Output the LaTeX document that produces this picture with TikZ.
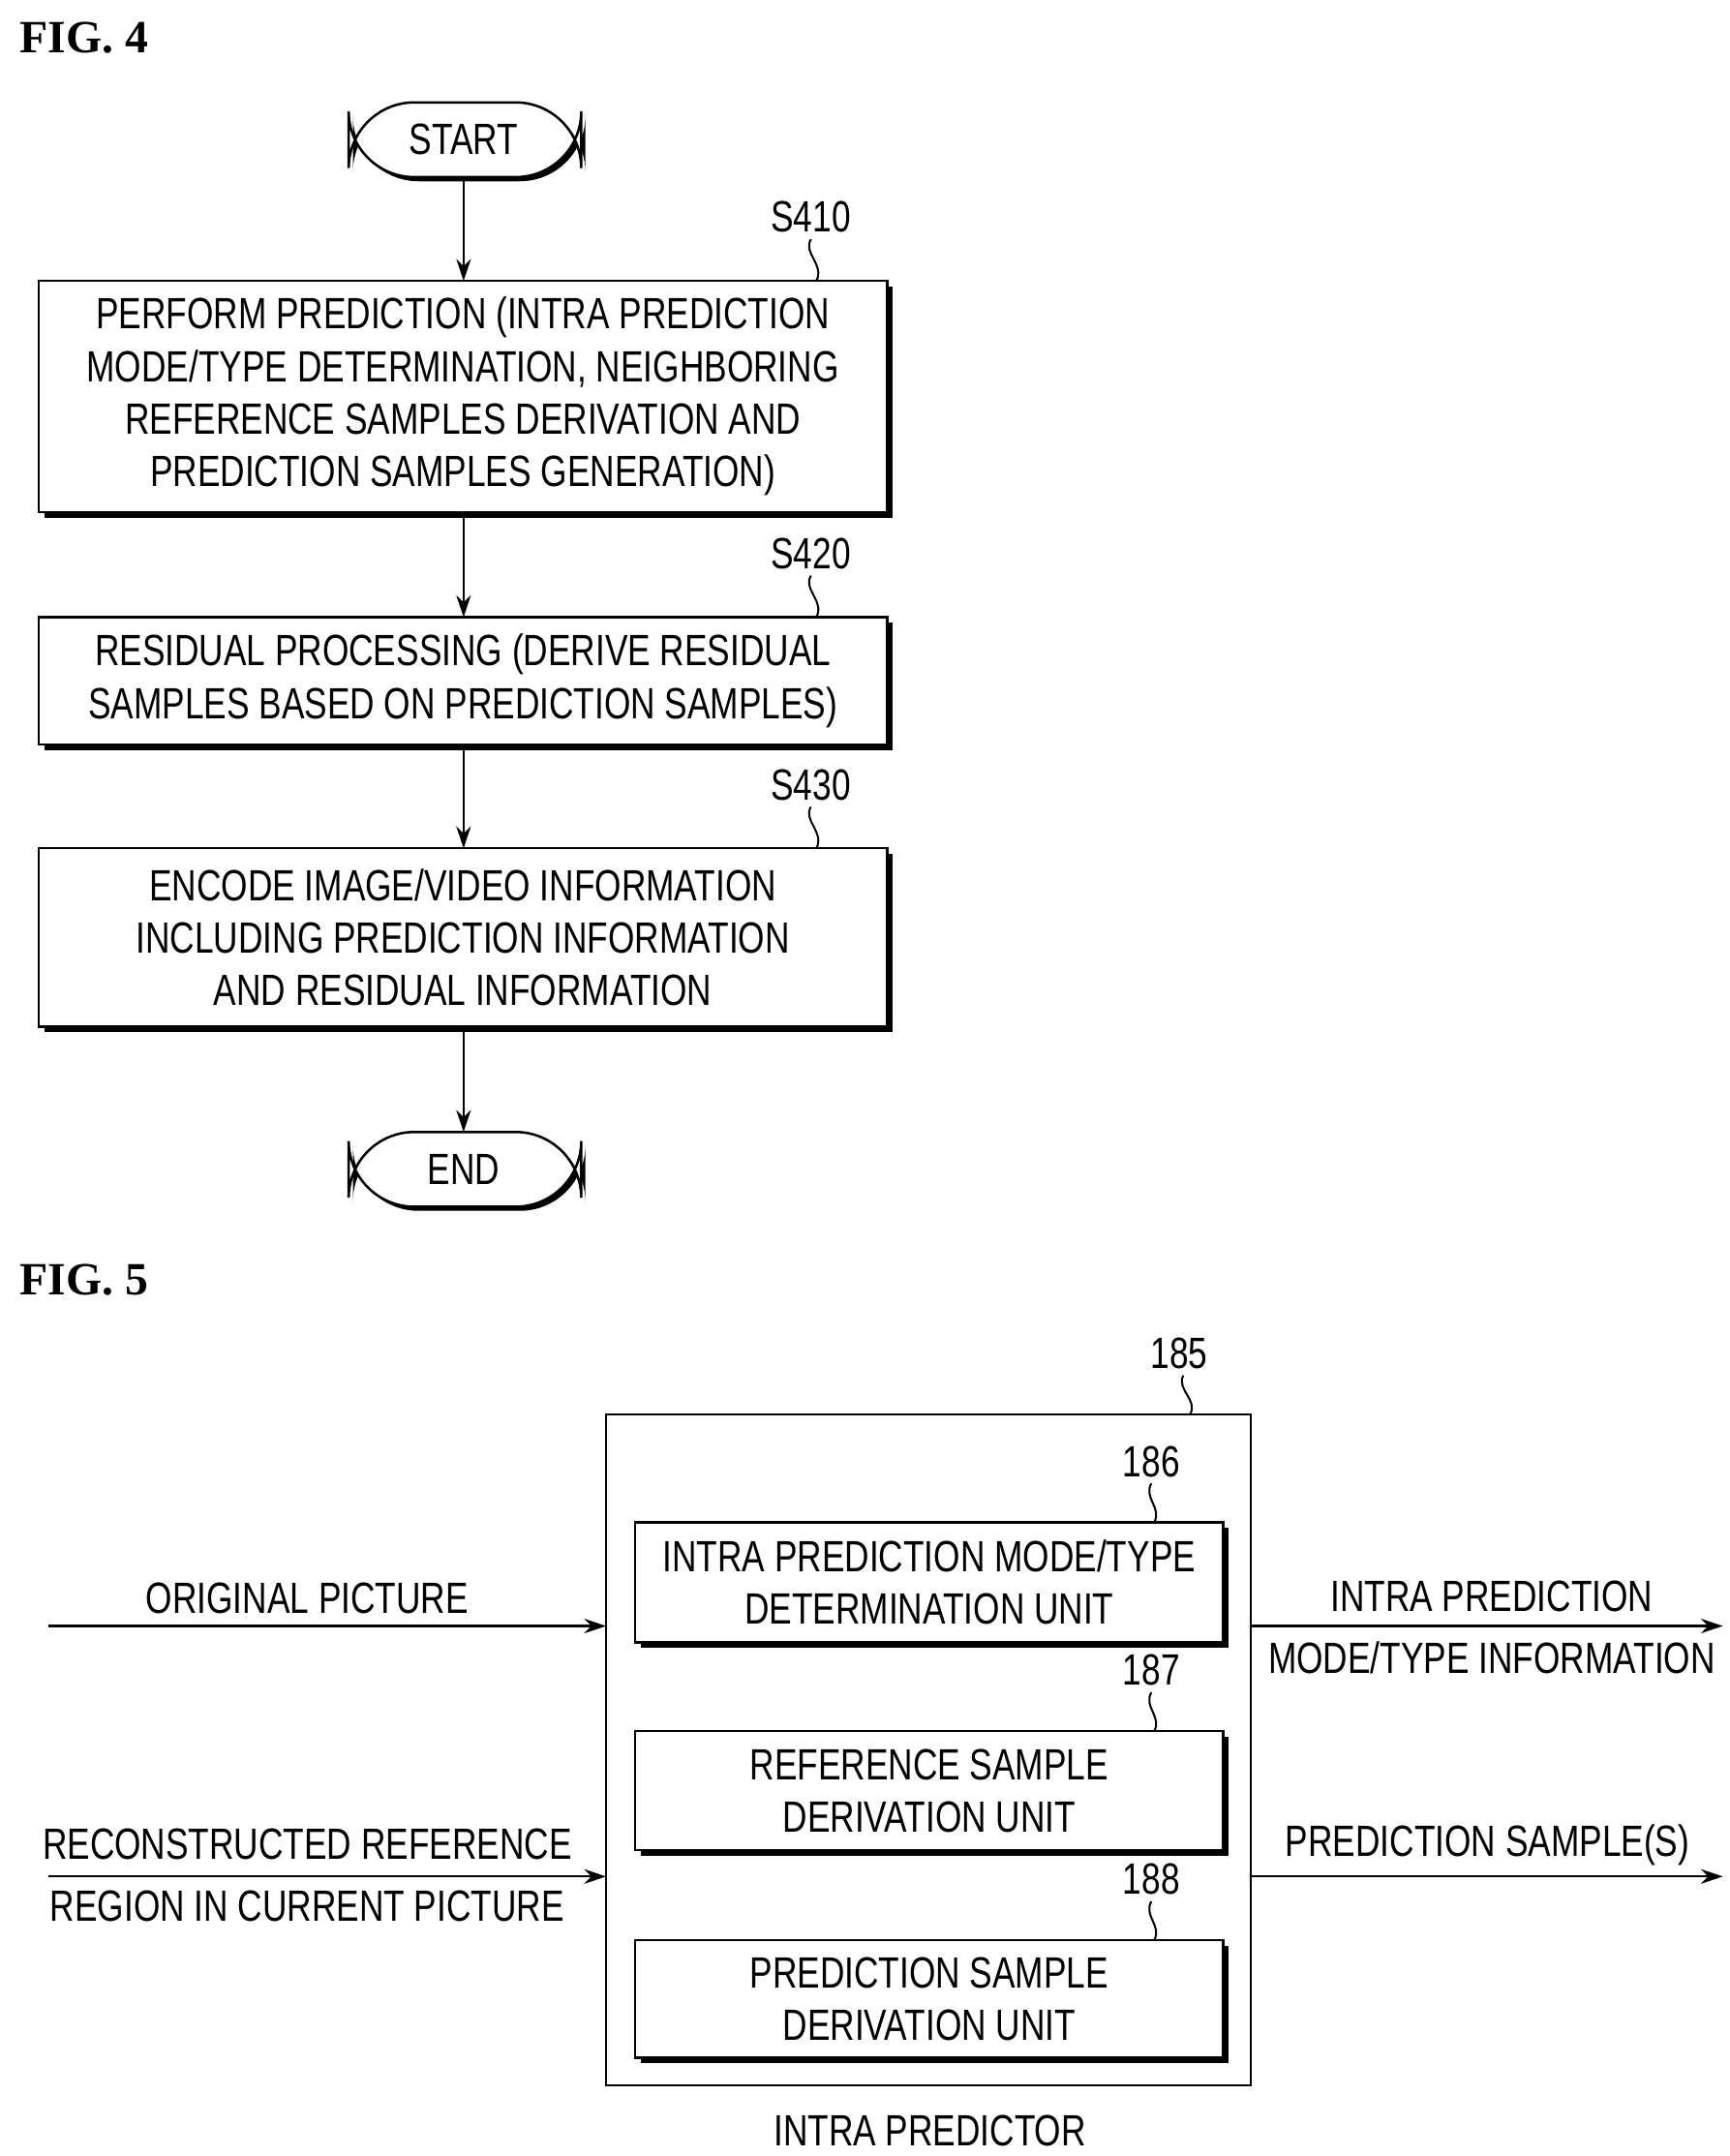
\documentclass[tikz,border=0pt]{standalone}
\usepackage{fontspec}
\setmainfont{Liberation Sans}[FakeStretch=0.78]
\newfontfamily\figfont{Liberation Serif}
\usetikzlibrary{arrows.meta}
\begin{document}
\begin{tikzpicture}[x=0.02cm,y=-0.02cm,
  txt/.style={font=\fontsize{18}{21.6}\selectfont,align=center,inner sep=0pt},
  lbl/.style={font=\fontsize{18}{21.6}\selectfont,inner sep=0pt},
  fig/.style={font=\figfont\bfseries\fontsize{19}{22}\selectfont,anchor=west,inner sep=0pt},
  box/.style={draw,line width=1pt,fill=white},
  shad/.style={fill=black},
  arr/.style={-{Stealth[length=9pt,width=6pt]},line width=0.9pt},
  lead/.style={line width=0.8pt}]
\useasboundingbox (0,0) rectangle (1250,1558);
\node[fig] (f4) at (14,27) {FIG. 4};
\node[fig] (f5) at (14,925) {FIG. 5};
% START / END
\foreach \n/\y/\t in {start/101/START,end/845/END}{
  \fill[rounded corners=27] (255,77) ++(0,\y-101) rectangle ++(168,54);
  \draw[box,rounded corners=27] (252,74) ++(0,\y-101) rectangle ++(168,54);
  \node[txt] (\n) at (335,\y) {\t};
}
% boxes
\newcommand{\pbox}[6]{%
  \fill (#1+4,#2+4) rectangle (#3+4,#4+4);
  \draw[box] (#1,#2) rectangle (#3,#4);
  \node[txt] (#5) at ({(#1+#3)/2},{(#2+#4)/2}) {#6};}
\pbox{28}{203}{641}{370}{b1}{PERFORM PREDICTION (INTRA PREDICTION\\MODE/TYPE DETERMINATION, NEIGHBORING\\REFERENCE SAMPLES DERIVATION AND\\PREDICTION SAMPLES GENERATION)}
\pbox{28}{446}{641}{538}{b2}{RESIDUAL PROCESSING (DERIVE RESIDUAL\\SAMPLES BASED ON PREDICTION SAMPLES)}
\pbox{28}{613}{641}{742}{b3}{ENCODE IMAGE/VIDEO INFORMATION\\INCLUDING PREDICTION INFORMATION\\AND RESIDUAL INFORMATION}
\draw[arr] (start.south |- 128,128) -- (335,203);
\draw[arr] (335,370) -- (335,446);
\draw[arr] (335,538) -- (335,613);
\draw[arr] (335,742) -- (335,818);
% step labels
\foreach \n/\y/\t in {s1/157/S410,s2/400/S420,s3/567/S430}{
  \node[lbl] (\n) at (586,\y) {\t};
  \draw[lead] (586,\y+16) .. controls (580,\y+26) and (596,\y+34) .. (590,\y+46);
}
% FIG 5
\draw[line width=1pt] (438,1022) rectangle (904,1507);
\node[lbl] (l185) at (852,978) {185};
\draw[lead] (855,994) .. controls (850,1004) and (866,1012) .. (860,1022);
\pbox{459}{1100}{884}{1187}{u1}{INTRA PREDICTION MODE/TYPE\\DETERMINATION UNIT}
\pbox{459}{1251}{884}{1337}{u2}{REFERENCE SAMPLE\\DERIVATION UNIT}
\pbox{459}{1402}{884}{1487}{u3}{PREDICTION SAMPLE\\DERIVATION UNIT}
\foreach \n/\y/\t in {l186/1056/186,l187/1207/187,l188/1358/188}{
  \node[lbl] (\n) at (832,\y) {\t};
  \draw[lead] (832,\y+16) .. controls (826,\y+26) and (840,\y+34) .. (834,\y+44);
}
\coordinate (i1) at (35,1175); \coordinate (i1e) at (438,1175);
\coordinate (i2) at (35,1356); \coordinate (i2e) at (438,1356);
\coordinate (o1) at (904,1175); \coordinate (o1e) at (1245,1175);
\coordinate (o2) at (904,1356); \coordinate (o2e) at (1245,1356);
\draw[arr] (i1) -- (i1e);
\draw[arr] (i2) -- (i2e);
\draw[arr] (o1) -- (o1e);
\draw[arr] (o2) -- (o2e);
\node[lbl] (t1) at (222,1155) {ORIGINAL PICTURE};
\node[txt] (t2) at (222,1355) {RECONSTRUCTED REFERENCE\\[4pt]REGION IN CURRENT PICTURE};
\node[txt] (t3) at (1078,1176) {INTRA PREDICTION\\[4pt]MODE/TYPE INFORMATION};
\node[lbl] (t4) at (1075,1333) {PREDICTION SAMPLE(S)};
\node[lbl] (t5) at (672,1540) {INTRA PREDICTOR};
\end{tikzpicture}
\end{document}
